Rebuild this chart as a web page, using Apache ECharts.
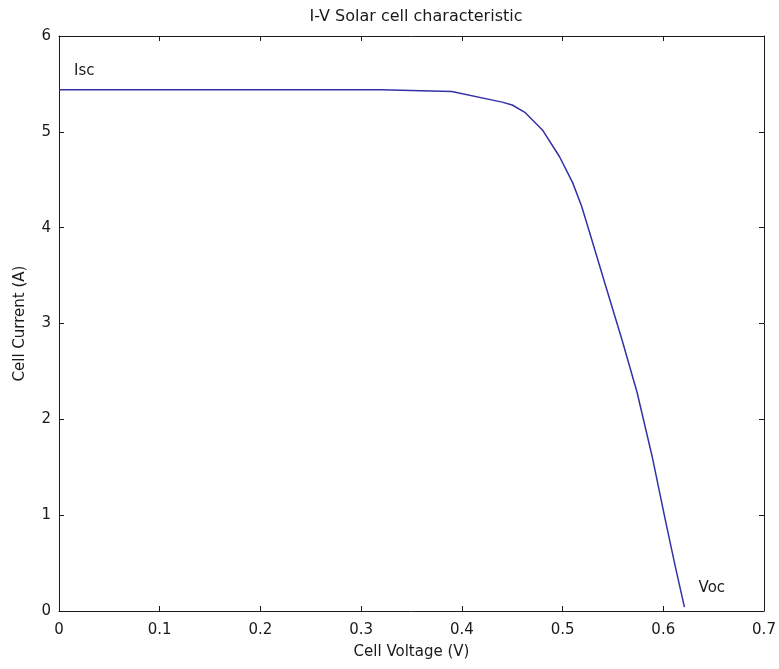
<!DOCTYPE html>
<html>
<head>
<meta charset="utf-8">
<title>I-V Solar cell characteristic</title>
<script src="https://cdn.jsdelivr.net/npm/echarts@6/dist/echarts.min.js"></script>
<style>
  html, body { margin: 0; padding: 0; background: #fff; }
  #chart { width: 779px; height: 669px; }
</style>
</head>
<body>
<div id="chart"></div>
<script>
// I-V curve
const voltage = [0, 0.32, 0.39, 0.44, 0.45, 0.463, 0.48, 0.497, 0.51, 0.519, 0.53, 0.542, 0.559, 0.574, 0.589, 0.602, 0.612, 0.621]
const current = [5.44, 5.44, 5.42, 5.31, 5.28, 5.20, 5.02, 4.74, 4.47, 4.22, 3.84, 3.42, 2.83, 2.28, 1.61, 0.95, 0.46, 0.04]
// text annotations
const noteText = ['Isc', 'Voc']
const noteX = [0.015, 0.635]
const noteY = [5.63, 0.24]

const xTicks = [0, 0.1, 0.2, 0.3, 0.4, 0.5, 0.6, 0.7]
const yTicks = [0, 1, 2, 3, 4, 5, 6]

const font = '"DejaVu Sans", Arial, sans-serif'
const ink = '#1a1a1a'

const myChart = echarts.init(document.getElementById('chart'))

// box + inward ticks, matlab style
const axisBase = {
  axisLine: { show: true, onZero: false, lineStyle: { color: ink, width: 1 } },
  axisTick: { show: true, inside: true, length: 5, lineStyle: { color: ink } },
  splitLine: { show: false }
}

myChart.setOption({
  animation: false,
  title: {
    text: 'I-V Solar cell characteristic',
    left: 411,
    top: 4,
    textAlign: 'center',
    textStyle: { fontFamily: font, fontSize: 16, fontWeight: 'normal', color: ink }
  },
  grid: { left: 59, right: 15, top: 36, bottom: 58 },
  xAxis: [{
    ...axisBase,
    type: 'value',
    min: xTicks[0],
    max: xTicks[xTicks.length - 1],
    interval: 0.1,
    name: 'Cell Voltage (V)',
    nameLocation: 'middle',
    nameGap: 34,
    nameTextStyle: { fontFamily: font, fontSize: 15, color: ink },
    axisLabel: { fontFamily: font, fontSize: 15, color: ink, margin: 12 }
  }, {
    ...axisBase,
    type: 'value',
    position: 'top',
    min: xTicks[0],
    max: xTicks[xTicks.length - 1],
    interval: 0.1,
    axisLabel: { show: false }
  }],
  yAxis: [{
    ...axisBase,
    type: 'value',
    min: yTicks[0],
    max: yTicks[yTicks.length - 1],
    interval: 1,
    name: 'Cell Current (A)',
    nameLocation: 'middle',
    nameGap: 31,
    nameTextStyle: { fontFamily: font, fontSize: 15, color: ink },
    axisLabel: { fontFamily: font, fontSize: 15, color: ink, margin: 8 }
  }, {
    ...axisBase,
    type: 'value',
    position: 'right',
    min: yTicks[0],
    max: yTicks[yTicks.length - 1],
    interval: 1,
    axisLabel: { show: false }
  }],
  series: [{
    name: 'I-V',
    type: 'line',
    data: voltage.map((v, i) => [v, current[i]]),
    showSymbol: false,
    smooth: false,
    lineStyle: { color: '#3232a6', width: 1.5 }
  }, {
    name: 'notes',
    type: 'scatter',
    symbolSize: 0,
    silent: true,
    data: noteText.map((t, i) => ({ value: [noteX[i], noteY[i]], name: t })),
    label: {
      show: true,
      position: 'right',
      distance: 0,
      formatter: p => p.name,
      fontFamily: font,
      fontSize: 15,
      color: ink,
      opacity: 1
    },
    itemStyle: { opacity: 1 }
  }]
})
</script>
</body>
</html>
